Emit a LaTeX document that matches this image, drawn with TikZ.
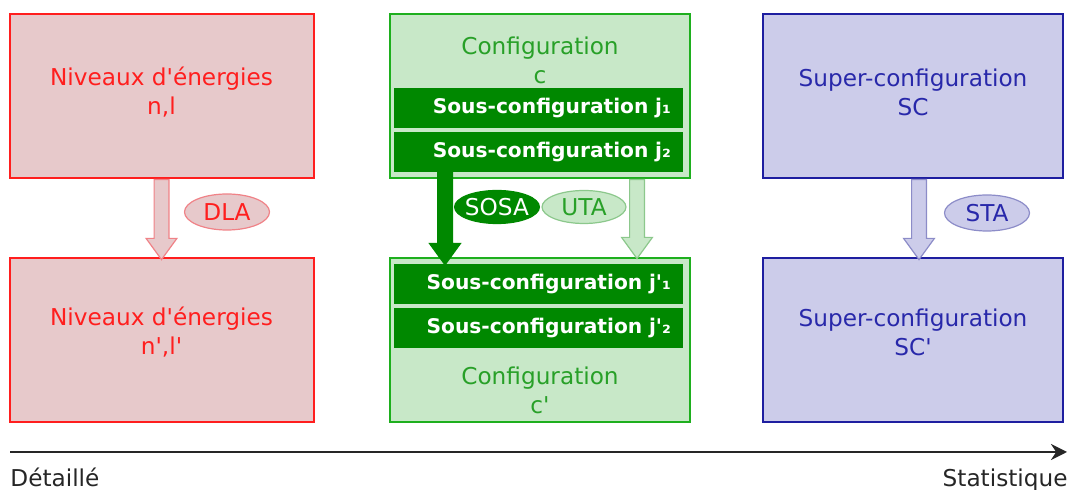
\documentclass[tikz,border=0pt]{standalone}
\usepackage{fontspec}
\setmainfont{DejaVu Sans}[Ligatures=TeXOff]
\usetikzlibrary{shapes.geometric,shapes.arrows,arrows.meta,calc,positioning}

\definecolor{rougeFond}{RGB}{231,201,203}
\definecolor{rougeTrait}{RGB}{255,30,30}
\definecolor{rougeTag}{RGB}{240,130,135}
\definecolor{vertFond}{RGB}{200,232,200}
\definecolor{vertTrait}{RGB}{30,175,30}
\definecolor{vertTexte}{RGB}{40,160,40}
\definecolor{vertTag}{RGB}{140,200,140}
\definecolor{vertFonce}{RGB}{0,136,0}
\definecolor{bleuFond}{RGB}{204,204,234}
\definecolor{bleuTrait}{RGB}{30,30,160}
\definecolor{bleuTexte}{RGB}{40,40,170}
\definecolor{bleuTag}{RGB}{140,140,200}

\begin{document}
\begin{tikzpicture}[x=0.5pt, y=-0.5pt,
  font=\fontsize{11.6}{14.5}\selectfont,
  box/.style={rectangle, draw, line width=1pt, minimum width=150pt, minimum height=82pt},
  bar/.style={rectangle, fill=vertFonce, text=white, font=\fontsize{10.1}{12}\selectfont\bfseries,
    minimum height=20pt, text width=132.5pt, inner xsep=6pt, inner ysep=0pt, align=right},
  tag/.style={ellipse, draw, line width=0.6pt, minimum width=42.5pt, minimum height=18pt,
    inner xsep=-1pt, inner ysep=0pt},
  barrow/.style={single arrow, draw, line width=0.6pt, rotate=-90, anchor=tail, inner xsep=0pt,
    inner ysep=3.4pt, single arrow head extend=4pt, single arrow tip angle=72}
  ]
  \useasboundingbox (0,0) rectangle (1077,490);

  % niveaux
  \node[box, draw=rougeTrait, fill=rougeFond, minimum width=152pt] (r1) at (161.5,96) {};
  \node[box, draw=rougeTrait, fill=rougeFond, minimum width=152pt, below=39pt of r1] (r2) {};
  \node[text=rougeTrait, align=center] (r1t) at (161.5,92.5) {Niveaux d'énergies\\n,l};
  \node[text=rougeTrait, align=center] (r2t) at (161.5,332.5) {Niveaux d'énergies\\n',l'};

  % configurations
  \node[box, draw=vertTrait, fill=vertFond] (c1) at (540,96) {};
  \node[box, draw=vertTrait, fill=vertFond, below=39pt of c1] (c2) {};
  \node[text=vertTexte, align=center] (c1t) at (540,60.5) {Configuration\\c};
  \node[text=vertTexte, align=center] (c2t) at (540,390) {Configuration\\c'};
  \node[bar] (b1) at (538.5,108) {Sous-configuration j₁};
  \node[bar, below=1.5pt of b1] (b2) {Sous-configuration j₂};
  \node[bar] (b3) at (538.5,284.5) {Sous-configuration j'₁};
  \node[bar, below=1.5pt of b3] (b4) {Sous-configuration j'₂};

  % super-configurations
  \node[box, draw=bleuTrait, fill=bleuFond] (s1) at (913,96) {};
  \node[box, draw=bleuTrait, fill=bleuFond, below=39pt of s1] (s2) {};
  \node[text=bleuTexte, align=center] (s1t) at (913,92.5) {Super-configuration\\SC};
  \node[text=bleuTexte, align=center] (s2t) at (913,332.5) {Super-configuration\\SC'};

  % fleches
  \path (r1.south) -- (r2.north) node[pos=0, barrow, draw=rougeTag, fill=rougeFond, minimum height=40pt] (ar) {};
  \path ($(b2.south)+(-93.5,0)$) -- ($(c2.north)+(-95,5)$)
    node[pos=0, barrow, draw=vertFonce, fill=vertFonce, minimum height=46pt] (ac1) {};
  \path ($(c1.south)+(97,0)$) -- ($(c2.north)+(97,0)$)
    node[pos=0, barrow, draw=vertTag, fill=vertFond, minimum height=39.5pt] (ac2) {};
  \path ($(s1.south)+(6,0)$) -- ($(s2.north)+(6,0)$)
    node[pos=0, barrow, draw=bleuTag, fill=bleuFond, minimum height=40pt] (as) {};

  \node[tag, draw=rougeTag, fill=rougeFond, text=rougeTrait] (dla) at (227,212) {DLA};
  \node[tag, draw=vertFonce, fill=vertFonce, text=white, minimum width=42pt, minimum height=16.5pt] (sosa) at (497,207) {SOSA};
  \node[tag, draw=vertTag, fill=vertFond, text=vertTexte, minimum width=42pt, minimum height=16.5pt] (uta) at (584,207) {UTA};
  \node[tag, draw=bleuTag, fill=bleuFond, text=bleuTexte] (sta) at (987,213) {STA};

  % axe
  \coordinate (ax0) at (10,452);
  \coordinate (ax1) at (1067,452);
  \draw[line width=1.3pt, black!85, -{Stealth[length=8pt,width=8pt]}] (ax0) -- (ax1);
  \node[anchor=base west, inner sep=0pt, text=black!85] (det) at (10,487) {Détaillé};
  \node[anchor=base east, inner sep=0pt, text=black!85] (stat) at (1068,487) {Statistique};

\end{tikzpicture}
\end{document}
